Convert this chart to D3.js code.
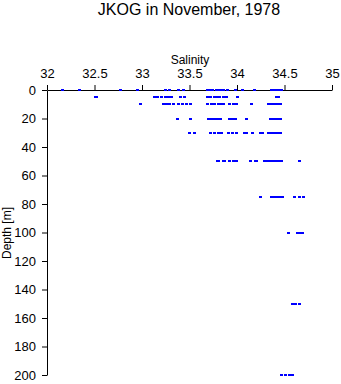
<!DOCTYPE html>
<html>
<head>
<meta charset="utf-8">
<script src="https://cdn.jsdelivr.net/npm/d3@7/dist/d3.min.js"></script>
<style>
  html, body { margin: 0; padding: 0; background: #fff; }
  svg { display: block; font-family: "Liberation Sans", Arial, Helvetica, sans-serif; }
</style>
</head>
<body>
<svg id="chart" width="341" height="384"></svg>
<script>
// Salinity samples at each sampling depth (m)
const depthLevels = [0, 5, 10, 20, 30, 50, 75, 100, 150, 200];

const sal0   = [32.16, 32.34, 32.77, 32.95, 33.25, 33.29, 33.38, 33.44, 33.69, 33.72, 33.74,
                33.78, 33.81, 33.83, 33.86, 33.90, 33.98, 34.06, 34.18,
                34.36, 34.38, 34.40, 34.42, 34.44, 34.46, 34.47];
const sal5   = [32.51, 32.525, 33.13, 33.16, 33.20, 33.25, 33.28, 33.31, 33.40, 33.45,
                33.69, 33.72, 33.76, 33.79, 33.82, 33.86, 33.89, 34.00, 34.42, 34.44];
const sal10  = [32.98, 33.23, 33.26, 33.29, 33.33, 33.38, 33.43, 33.47, 33.51,
                33.69, 33.73, 33.76, 33.80, 33.84, 33.86, 33.92, 33.96, 33.99, 34.15,
                34.33, 34.36, 34.39, 34.42, 34.44, 34.46];
const sal20  = [33.37, 33.51, 33.70, 33.73, 33.76, 33.79, 33.83, 33.92, 33.95, 33.98,
                34.10, 34.35, 34.38, 34.41, 34.44, 34.46];
const sal30  = [33.50, 33.55, 33.72, 33.765, 33.81, 33.84, 33.91, 33.95, 33.99,
                34.08, 34.10, 34.16, 34.25, 34.27, 34.33, 34.36, 34.39, 34.42, 34.44, 34.46];
const sal50  = [33.79, 33.80, 33.86, 33.87, 33.92, 33.96, 33.99, 34.14, 34.19, 34.21,
                34.29, 34.32, 34.35, 34.38, 34.41, 34.44, 34.47, 34.66];
const sal75  = [34.25, 34.36, 34.39, 34.42, 34.45, 34.48, 34.61, 34.66, 34.705];
const sal100 = [34.54, 34.64, 34.665, 34.69];
const sal150 = [34.58, 34.62, 34.66];
const sal200 = [34.47, 34.51, 34.55, 34.58];

const salinityByLevel = [sal0, sal5, sal10, sal20, sal30, sal50, sal75, sal100, sal150, sal200];

const xTicks = [32, 32.5, 33, 33.5, 34, 34.5, 35];
const yTicks = [0, 20, 40, 60, 80, 100, 120, 140, 160, 180, 200];

const titleText = "JKOG in November, 1978";
const xLabel = "Salinity";
const yLabel = "Depth [m]";

const svg = d3.select("#chart");

const x = d3.scaleLinear().domain([32, 35]).range([47, 332]);
const y = d3.scaleLinear().domain([0, 200]).range([90, 375]);

// Flatten into (salinity, depth) points
const points = [];
salinityByLevel.forEach((arr, i) => {
  arr.forEach(s => points.push({ s: s, d: depthLevels[i] }));
});

// Title
svg.append("text")
  .attr("x", 189)
  .attr("y", 15)
  .attr("text-anchor", "middle")
  .attr("font-size", 16)
  .text(titleText);

// Salinity axis on top
const xAxis = svg.append("g")
  .attr("transform", "translate(0,90)")
  .call(d3.axisTop(x).tickValues(xTicks).tickSize(5).tickSizeOuter(0).tickPadding(7)
    .tickFormat(d3.format("")));
xAxis.select(".domain").attr("stroke", "#000");
xAxis.selectAll(".tick line").attr("stroke", "#000");
xAxis.selectAll(".tick text").attr("font-size", 13).attr("font-family", null).attr("fill", "#000");

// Depth axis on the left
const yAxis = svg.append("g")
  .attr("transform", "translate(47,0)")
  .call(d3.axisLeft(y).tickValues(yTicks).tickSize(5).tickSizeOuter(0).tickPadding(6));
yAxis.select(".domain").attr("stroke", "#000");
yAxis.selectAll(".tick line").attr("stroke", "#000");
yAxis.selectAll(".tick text").attr("font-size", 13).attr("font-family", null).attr("fill", "#000");

// Axis titles
svg.append("text")
  .attr("x", 190)
  .attr("y", 64)
  .attr("text-anchor", "middle")
  .attr("font-size", 12)
  .text(xLabel);

svg.append("text")
  .attr("transform", "translate(11,233) rotate(-90)")
  .attr("text-anchor", "middle")
  .attr("font-size", 12)
  .text(yLabel);

// Sample markers
svg.append("g")
  .attr("fill", "#0000ff")
  .attr("shape-rendering", "crispEdges")
  .selectAll("rect")
  .data(points)
  .join("rect")
  .attr("x", d => x(d.s) - 1.5)
  .attr("y", d => y(d.d) - 1)
  .attr("width", 3)
  .attr("height", 2);
</script>
</body>
</html>
